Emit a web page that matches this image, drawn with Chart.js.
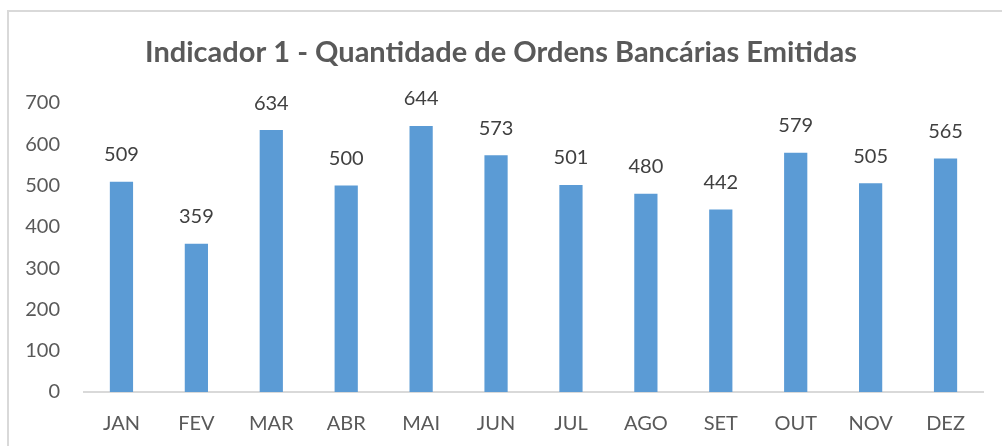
<!DOCTYPE html>
<html>
<head>
<meta charset="utf-8">
<script src="https://cdn.jsdelivr.net/npm/chart.js@4"></script>
<style>
    html, body { margin: 0; padding: 0; background: #fff; overflow: hidden; }
    #frame {
        position: absolute;
        left: 7px;
        top: 10px;
        width: 1100px;
        height: 500px;
        border-left: 2px solid #d9d9d9;
        border-top: 2px solid #d9d9d9;
    }
    #wrap { position: absolute; left: 0; top: 0; width: 1002px; height: 446px; }
</style>
</head>
<body>
<div id="frame"></div>
<div id="wrap"><canvas id="ordensChart"></canvas></div>
<script>
// Dados do gráfico
const meses = ['JAN', 'FEV', 'MAR', 'ABR', 'MAI', 'JUN', 'JUL', 'AGO', 'SET', 'OUT', 'NOV', 'DEZ'];
const quantidades = [509, 359, 634, 500, 644, 573, 501, 480, 442, 579, 505, 565];
const yTicks = [0, 100, 200, 300, 400, 500, 600, 700];

const fonte = 'Lato, "Open Sans", sans-serif';

// Plugin simples para escrever o valor acima de cada barra
const rotulosBarras = {
    id: 'rotulosBarras',
    afterDatasetsDraw(chart) {
        const ctx = chart.ctx;
        const meta = chart.getDatasetMeta(0);
        ctx.save();
        ctx.font = '20px ' + fonte;
        ctx.fillStyle = '#404040';
        ctx.textAlign = 'center';
        ctx.textBaseline = 'middle';
        meta.data.forEach((bar, i) => {
            ctx.fillText(String(quantidades[i]), bar.x, bar.y - 27);
        });
        ctx.restore();
    }
};

const ctx = document.getElementById('ordensChart').getContext('2d');
new Chart(ctx, {
    type: 'bar',
    data: {
        labels: meses,
        datasets: [{
            label: 'Quantidade',
            data: quantidades,
            backgroundColor: '#5b9bd5',
            borderWidth: 0,
            barPercentage: 0.31,
            categoryPercentage: 1
        }]
    },
    options: {
        responsive: true,
        maintainAspectRatio: false,
        animation: false,
        layout: {
            // padding simétrico para o título ficar centrado na página
            padding: { left: 19, right: 19, top: 0, bottom: 0 }
        },
        plugins: {
            legend: { display: false },
            tooltip: { enabled: false },
            title: {
                display: true,
                text: 'Indicador 1 - Quantidade de Ordens Bancárias Emitidas',
                color: '#595959',
                font: { family: fonte, size: 29, weight: 'bold' },
                padding: { top: 35, bottom: 33 }
            }
        },
        scales: {
            x: {
                grid: { display: false },
                border: { display: true, color: '#d9d9d9', width: 2 },
                ticks: {
                    color: '#595959',
                    font: { family: fonte, size: 20 },
                    padding: 12
                },
                afterFit: (scale) => { scale.height = 54; }
            },
            y: {
                min: 0,
                max: 700,
                grid: { display: false },
                border: { display: false },
                afterBuildTicks: (scale) => {
                    scale.ticks = yTicks.map(v => ({ value: v }));
                },
                ticks: {
                    color: '#595959',
                    font: { family: fonte, size: 20 },
                    padding: 16
                },
                afterFit: (scale) => { scale.width = 65; }
            }
        }
    },
    plugins: [rotulosBarras]
});
</script>
</body>
</html>
